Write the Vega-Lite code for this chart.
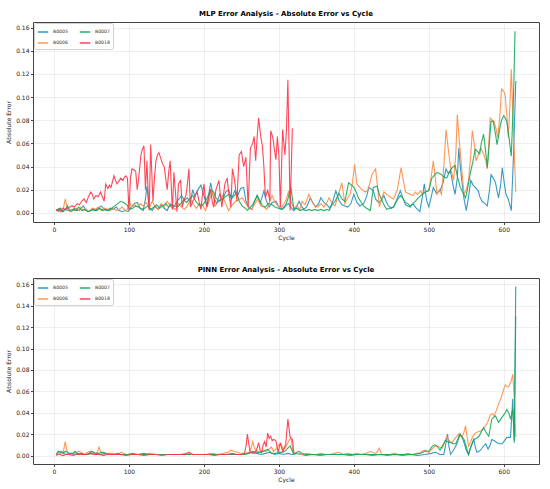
{
  "$schema": "https://vega.github.io/schema/vega-lite/v5.json",
  "autosize": {"type": "pad"},
  "padding": {"left": 5, "top": 9, "right": 5, "bottom": 0},
  "datasets": {
    "mlp": [
      {"b":"B0005","c":3,"e":0.002},{"b":"B0005","c":7,"e":0.004},{"b":"B0005","c":11,"e":0.001},{"b":"B0005","c":15,"e":0.003},{"b":"B0005","c":19,"e":0.002},{"b":"B0005","c":23,"e":0.001},{"b":"B0005","c":27,"e":0.004},{"b":"B0005","c":31,"e":0.002},{"b":"B0005","c":35,"e":0.003},{"b":"B0005","c":39,"e":0.006},{"b":"B0005","c":43,"e":0.002},{"b":"B0005","c":47,"e":0.001},{"b":"B0005","c":51,"e":0.003},{"b":"B0005","c":55,"e":0.002},{"b":"B0005","c":59,"e":0.004},{"b":"B0005","c":63,"e":0.006},{"b":"B0005","c":67,"e":0.003},{"b":"B0005","c":71,"e":0.002},{"b":"B0005","c":75,"e":0.004},{"b":"B0005","c":79,"e":0.003},{"b":"B0005","c":83,"e":0.005},{"b":"B0005","c":87,"e":0.002},{"b":"B0005","c":91,"e":0.001},{"b":"B0005","c":95,"e":0.002},{"b":"B0005","c":99,"e":0.001},{"b":"B0005","c":103,"e":0.005},{"b":"B0005","c":107,"e":0.008},{"b":"B0005","c":111,"e":0.009},{"b":"B0005","c":115,"e":0.004},{"b":"B0005","c":119,"e":0.002},{"b":"B0005","c":122,"e":0.012},{"b":"B0005","c":124,"e":0.023},{"b":"B0005","c":127,"e":0.005},{"b":"B0005","c":131,"e":0.002},{"b":"B0005","c":135,"e":0.006},{"b":"B0005","c":139,"e":0.003},{"b":"B0005","c":143,"e":0.007},{"b":"B0005","c":147,"e":0.004},{"b":"B0005","c":151,"e":0.002},{"b":"B0005","c":155,"e":0.008},{"b":"B0005","c":159,"e":0.004},{"b":"B0005","c":163,"e":0.009},{"b":"B0005","c":167,"e":0.012},{"b":"B0005","c":170,"e":0.015},{"b":"B0005","c":174,"e":0.011},{"b":"B0005","c":178,"e":0.013},{"b":"B0005","c":182,"e":0.009},{"b":"B0005","c":185,"e":0.020},{"b":"B0005","c":188,"e":0.014},{"b":"B0005","c":191,"e":0.019},{"b":"B0005","c":196,"e":0.024},{"b":"B0005","c":200,"e":0.015},{"b":"B0005","c":204,"e":0.006},{"b":"B0005","c":209,"e":0.026},{"b":"B0005","c":213,"e":0.013},{"b":"B0005","c":217,"e":0.008},{"b":"B0005","c":221,"e":0.016},{"b":"B0005","c":225,"e":0.011},{"b":"B0005","c":229,"e":0.018},{"b":"B0005","c":233,"e":0.020},{"b":"B0005","c":237,"e":0.012},{"b":"B0005","c":241,"e":0.019},{"b":"B0005","c":245,"e":0.015},{"b":"B0005","c":249,"e":0.021},{"b":"B0005","c":253,"e":0.022},{"b":"B0005","c":256,"e":0.010},{"b":"B0005","c":260,"e":0.005},{"b":"B0005","c":264,"e":0.003},{"b":"B0005","c":267,"e":0.009},{"b":"B0005","c":271,"e":0.015},{"b":"B0005","c":275,"e":0.008},{"b":"B0005","c":280,"e":0.019},{"b":"B0005","c":283,"e":0.011},{"b":"B0005","c":287,"e":0.005},{"b":"B0005","c":291,"e":0.009},{"b":"B0005","c":296,"e":0.010},{"b":"B0005","c":300,"e":0.005},{"b":"B0005","c":304,"e":0.003},{"b":"B0005","c":308,"e":0.006},{"b":"B0005","c":313,"e":0.008},{"b":"B0005","c":317,"e":0.004},{"b":"B0005","c":320,"e":0.002},{"b":"B0005","c":324,"e":0.006},{"b":"B0005","c":327,"e":0.010},{"b":"B0005","c":330,"e":0.006},{"b":"B0005","c":333,"e":0.003},{"b":"B0005","c":337,"e":0.005},{"b":"B0005","c":342,"e":0.013},{"b":"B0005","c":345,"e":0.009},{"b":"B0005","c":349,"e":0.005},{"b":"B0005","c":353,"e":0.008},{"b":"B0005","c":356,"e":0.013},{"b":"B0005","c":360,"e":0.009},{"b":"B0005","c":364,"e":0.007},{"b":"B0005","c":368,"e":0.004},{"b":"B0005","c":372,"e":0.010},{"b":"B0005","c":376,"e":0.019},{"b":"B0005","c":380,"e":0.011},{"b":"B0005","c":384,"e":0.007},{"b":"B0005","c":388,"e":0.006},{"b":"B0005","c":392,"e":0.005},{"b":"B0005","c":396,"e":0.008},{"b":"B0005","c":400,"e":0.016},{"b":"B0005","c":404,"e":0.009},{"b":"B0005","c":408,"e":0.006},{"b":"B0005","c":413,"e":0.008},{"b":"B0005","c":417,"e":0.014},{"b":"B0005","c":420,"e":0.022},{"b":"B0005","c":426,"e":0.019},{"b":"B0005","c":429,"e":0.012},{"b":"B0005","c":433,"e":0.009},{"b":"B0005","c":437,"e":0.011},{"b":"B0005","c":440,"e":0.015},{"b":"B0005","c":443,"e":0.010},{"b":"B0005","c":446,"e":0.006},{"b":"B0005","c":450,"e":0.004},{"b":"B0005","c":453,"e":0.005},{"b":"B0005","c":457,"e":0.011},{"b":"B0005","c":462,"e":0.019},{"b":"B0005","c":466,"e":0.012},{"b":"B0005","c":469,"e":0.007},{"b":"B0005","c":472,"e":0.006},{"b":"B0005","c":475,"e":0.005},{"b":"B0005","c":479,"e":0.008},{"b":"B0005","c":482,"e":0.005},{"b":"B0005","c":485,"e":0.003},{"b":"B0005","c":488,"e":0.001},{"b":"B0005","c":491,"e":0.012},{"b":"B0005","c":494,"e":0.025},{"b":"B0005","c":497,"e":0.011},{"b":"B0005","c":500,"e":0.005},{"b":"B0005","c":503,"e":0.013},{"b":"B0005","c":506,"e":0.022},{"b":"B0005","c":510,"e":0.017},{"b":"B0005","c":515,"e":0.019},{"b":"B0005","c":519,"e":0.026},{"b":"B0005","c":523,"e":0.038},{"b":"B0005","c":526,"e":0.034},{"b":"B0005","c":529,"e":0.036},{"b":"B0005","c":532,"e":0.025},{"b":"B0005","c":535,"e":0.016},{"b":"B0005","c":538,"e":0.030},{"b":"B0005","c":540,"e":0.056},{"b":"B0005","c":542,"e":0.040},{"b":"B0005","c":544,"e":0.028},{"b":"B0005","c":547,"e":0.012},{"b":"B0005","c":550,"e":0.002},{"b":"B0005","c":553,"e":0.014},{"b":"B0005","c":556,"e":0.028},{"b":"B0005","c":559,"e":0.024},{"b":"B0005","c":562,"e":0.022},{"b":"B0005","c":566,"e":0.019},{"b":"B0005","c":568,"e":0.014},{"b":"B0005","c":571,"e":0.010},{"b":"B0005","c":575,"e":0.008},{"b":"B0005","c":578,"e":0.006},{"b":"B0005","c":581,"e":0.020},{"b":"B0005","c":583,"e":0.033},{"b":"B0005","c":586,"e":0.030},{"b":"B0005","c":589,"e":0.026},{"b":"B0005","c":591,"e":0.019},{"b":"B0005","c":593,"e":0.013},{"b":"B0005","c":596,"e":0.025},{"b":"B0005","c":598,"e":0.039},{"b":"B0005","c":601,"e":0.024},{"b":"B0005","c":603,"e":0.016},{"b":"B0005","c":606,"e":0.012},{"b":"B0005","c":608,"e":0.007},{"b":"B0005","c":610,"e":0.002},{"b":"B0005","c":613,"e":0.050},{"b":"B0005","c":616,"e":0.114},
      {"b":"B0006","c":3,"e":0.002},{"b":"B0006","c":6,"e":0.001},{"b":"B0006","c":9,"e":0.003},{"b":"B0006","c":12,"e":0.002},{"b":"B0006","c":15,"e":0.012},{"b":"B0006","c":18,"e":0.003},{"b":"B0006","c":22,"e":0.001},{"b":"B0006","c":26,"e":0.002},{"b":"B0006","c":30,"e":0.004},{"b":"B0006","c":34,"e":0.002},{"b":"B0006","c":36,"e":0.005},{"b":"B0006","c":39,"e":0.002},{"b":"B0006","c":43,"e":0.003},{"b":"B0006","c":47,"e":0.001},{"b":"B0006","c":51,"e":0.004},{"b":"B0006","c":55,"e":0.003},{"b":"B0006","c":59,"e":0.005},{"b":"B0006","c":63,"e":0.002},{"b":"B0006","c":67,"e":0.004},{"b":"B0006","c":71,"e":0.003},{"b":"B0006","c":75,"e":0.002},{"b":"B0006","c":79,"e":0.004},{"b":"B0006","c":83,"e":0.002},{"b":"B0006","c":87,"e":0.003},{"b":"B0006","c":91,"e":0.005},{"b":"B0006","c":95,"e":0.002},{"b":"B0006","c":98,"e":0.003},{"b":"B0006","c":100,"e":0.013},{"b":"B0006","c":103,"e":0.005},{"b":"B0006","c":107,"e":0.007},{"b":"B0006","c":111,"e":0.005},{"b":"B0006","c":115,"e":0.008},{"b":"B0006","c":119,"e":0.006},{"b":"B0006","c":123,"e":0.009},{"b":"B0006","c":127,"e":0.004},{"b":"B0006","c":131,"e":0.010},{"b":"B0006","c":135,"e":0.005},{"b":"B0006","c":139,"e":0.003},{"b":"B0006","c":143,"e":0.008},{"b":"B0006","c":147,"e":0.005},{"b":"B0006","c":151,"e":0.010},{"b":"B0006","c":155,"e":0.006},{"b":"B0006","c":158,"e":0.004},{"b":"B0006","c":162,"e":0.003},{"b":"B0006","c":166,"e":0.008},{"b":"B0006","c":170,"e":0.005},{"b":"B0006","c":174,"e":0.003},{"b":"B0006","c":178,"e":0.006},{"b":"B0006","c":182,"e":0.012},{"b":"B0006","c":186,"e":0.007},{"b":"B0006","c":190,"e":0.004},{"b":"B0006","c":194,"e":0.008},{"b":"B0006","c":198,"e":0.007},{"b":"B0006","c":202,"e":0.002},{"b":"B0006","c":207,"e":0.010},{"b":"B0006","c":211,"e":0.019},{"b":"B0006","c":215,"e":0.006},{"b":"B0006","c":220,"e":0.010},{"b":"B0006","c":225,"e":0.015},{"b":"B0006","c":229,"e":0.008},{"b":"B0006","c":233,"e":0.002},{"b":"B0006","c":237,"e":0.006},{"b":"B0006","c":242,"e":0.010},{"b":"B0006","c":246,"e":0.011},{"b":"B0006","c":251,"e":0.013},{"b":"B0006","c":256,"e":0.008},{"b":"B0006","c":260,"e":0.004},{"b":"B0006","c":264,"e":0.003},{"b":"B0006","c":268,"e":0.008},{"b":"B0006","c":272,"e":0.012},{"b":"B0006","c":276,"e":0.006},{"b":"B0006","c":280,"e":0.005},{"b":"B0006","c":284,"e":0.003},{"b":"B0006","c":288,"e":0.010},{"b":"B0006","c":291,"e":0.015},{"b":"B0006","c":295,"e":0.009},{"b":"B0006","c":299,"e":0.006},{"b":"B0006","c":303,"e":0.004},{"b":"B0006","c":307,"e":0.008},{"b":"B0006","c":310,"e":0.012},{"b":"B0006","c":313,"e":0.019},{"b":"B0006","c":316,"e":0.010},{"b":"B0006","c":320,"e":0.004},{"b":"B0006","c":324,"e":0.006},{"b":"B0006","c":328,"e":0.003},{"b":"B0006","c":331,"e":0.010},{"b":"B0006","c":335,"e":0.007},{"b":"B0006","c":340,"e":0.016},{"b":"B0006","c":344,"e":0.010},{"b":"B0006","c":348,"e":0.006},{"b":"B0006","c":352,"e":0.005},{"b":"B0006","c":356,"e":0.008},{"b":"B0006","c":360,"e":0.005},{"b":"B0006","c":364,"e":0.009},{"b":"B0006","c":367,"e":0.013},{"b":"B0006","c":371,"e":0.008},{"b":"B0006","c":375,"e":0.006},{"b":"B0006","c":379,"e":0.015},{"b":"B0006","c":384,"e":0.026},{"b":"B0006","c":388,"e":0.008},{"b":"B0006","c":391,"e":0.012},{"b":"B0006","c":395,"e":0.016},{"b":"B0006","c":398,"e":0.025},{"b":"B0006","c":401,"e":0.042},{"b":"B0006","c":404,"e":0.025},{"b":"B0006","c":408,"e":0.022},{"b":"B0006","c":411,"e":0.020},{"b":"B0006","c":415,"e":0.018},{"b":"B0006","c":418,"e":0.019},{"b":"B0006","c":421,"e":0.025},{"b":"B0006","c":424,"e":0.033},{"b":"B0006","c":429,"e":0.038},{"b":"B0006","c":432,"e":0.020},{"b":"B0006","c":434,"e":0.005},{"b":"B0006","c":437,"e":0.012},{"b":"B0006","c":440,"e":0.018},{"b":"B0006","c":446,"e":0.015},{"b":"B0006","c":450,"e":0.013},{"b":"B0006","c":453,"e":0.012},{"b":"B0006","c":458,"e":0.020},{"b":"B0006","c":463,"e":0.039},{"b":"B0006","c":466,"e":0.028},{"b":"B0006","c":469,"e":0.018},{"b":"B0006","c":472,"e":0.017},{"b":"B0006","c":475,"e":0.016},{"b":"B0006","c":479,"e":0.015},{"b":"B0006","c":482,"e":0.018},{"b":"B0006","c":485,"e":0.016},{"b":"B0006","c":489,"e":0.019},{"b":"B0006","c":492,"e":0.016},{"b":"B0006","c":495,"e":0.018},{"b":"B0006","c":498,"e":0.019},{"b":"B0006","c":500,"e":0.020},{"b":"B0006","c":503,"e":0.030},{"b":"B0006","c":506,"e":0.045},{"b":"B0006","c":509,"e":0.028},{"b":"B0006","c":511,"e":0.016},{"b":"B0006","c":514,"e":0.020},{"b":"B0006","c":517,"e":0.016},{"b":"B0006","c":520,"e":0.040},{"b":"B0006","c":523,"e":0.072},{"b":"B0006","c":526,"e":0.055},{"b":"B0006","c":529,"e":0.039},{"b":"B0006","c":533,"e":0.028},{"b":"B0006","c":536,"e":0.050},{"b":"B0006","c":538,"e":0.085},{"b":"B0006","c":541,"e":0.060},{"b":"B0006","c":543,"e":0.045},{"b":"B0006","c":545,"e":0.030},{"b":"B0006","c":547,"e":0.016},{"b":"B0006","c":550,"e":0.020},{"b":"B0006","c":553,"e":0.028},{"b":"B0006","c":556,"e":0.050},{"b":"B0006","c":558,"e":0.071},{"b":"B0006","c":561,"e":0.058},{"b":"B0006","c":563,"e":0.045},{"b":"B0006","c":566,"e":0.050},{"b":"B0006","c":569,"e":0.056},{"b":"B0006","c":573,"e":0.051},{"b":"B0006","c":576,"e":0.045},{"b":"B0006","c":578,"e":0.038},{"b":"B0006","c":580,"e":0.060},{"b":"B0006","c":582,"e":0.082},{"b":"B0006","c":585,"e":0.080},{"b":"B0006","c":587,"e":0.079},{"b":"B0006","c":590,"e":0.072},{"b":"B0006","c":592,"e":0.065},{"b":"B0006","c":595,"e":0.085},{"b":"B0006","c":597,"e":0.107},{"b":"B0006","c":600,"e":0.105},{"b":"B0006","c":602,"e":0.101},{"b":"B0006","c":604,"e":0.085},{"b":"B0006","c":606,"e":0.065},{"b":"B0006","c":608,"e":0.090},{"b":"B0006","c":610,"e":0.124},{"b":"B0006","c":613,"e":0.070},{"b":"B0006","c":616,"e":0.018},
      {"b":"B0007","c":3,"e":0.003},{"b":"B0007","c":6,"e":0.002},{"b":"B0007","c":9,"e":0.004},{"b":"B0007","c":12,"e":0.001},{"b":"B0007","c":15,"e":0.003},{"b":"B0007","c":18,"e":0.006},{"b":"B0007","c":21,"e":0.002},{"b":"B0007","c":25,"e":0.003},{"b":"B0007","c":29,"e":0.002},{"b":"B0007","c":33,"e":0.005},{"b":"B0007","c":37,"e":0.002},{"b":"B0007","c":41,"e":0.003},{"b":"B0007","c":45,"e":0.001},{"b":"B0007","c":49,"e":0.002},{"b":"B0007","c":53,"e":0.003},{"b":"B0007","c":57,"e":0.002},{"b":"B0007","c":61,"e":0.004},{"b":"B0007","c":65,"e":0.002},{"b":"B0007","c":69,"e":0.003},{"b":"B0007","c":73,"e":0.002},{"b":"B0007","c":77,"e":0.004},{"b":"B0007","c":81,"e":0.006},{"b":"B0007","c":85,"e":0.008},{"b":"B0007","c":89,"e":0.010},{"b":"B0007","c":93,"e":0.009},{"b":"B0007","c":97,"e":0.007},{"b":"B0007","c":101,"e":0.003},{"b":"B0007","c":105,"e":0.004},{"b":"B0007","c":109,"e":0.006},{"b":"B0007","c":113,"e":0.005},{"b":"B0007","c":117,"e":0.003},{"b":"B0007","c":121,"e":0.004},{"b":"B0007","c":125,"e":0.006},{"b":"B0007","c":129,"e":0.003},{"b":"B0007","c":133,"e":0.005},{"b":"B0007","c":137,"e":0.007},{"b":"B0007","c":141,"e":0.004},{"b":"B0007","c":145,"e":0.006},{"b":"B0007","c":149,"e":0.008},{"b":"B0007","c":153,"e":0.005},{"b":"B0007","c":157,"e":0.007},{"b":"B0007","c":161,"e":0.006},{"b":"B0007","c":165,"e":0.005},{"b":"B0007","c":169,"e":0.008},{"b":"B0007","c":173,"e":0.011},{"b":"B0007","c":177,"e":0.009},{"b":"B0007","c":181,"e":0.012},{"b":"B0007","c":185,"e":0.015},{"b":"B0007","c":189,"e":0.010},{"b":"B0007","c":193,"e":0.007},{"b":"B0007","c":197,"e":0.006},{"b":"B0007","c":201,"e":0.009},{"b":"B0007","c":205,"e":0.014},{"b":"B0007","c":209,"e":0.020},{"b":"B0007","c":213,"e":0.018},{"b":"B0007","c":216,"e":0.013},{"b":"B0007","c":220,"e":0.010},{"b":"B0007","c":225,"e":0.012},{"b":"B0007","c":229,"e":0.014},{"b":"B0007","c":233,"e":0.016},{"b":"B0007","c":237,"e":0.013},{"b":"B0007","c":241,"e":0.015},{"b":"B0007","c":244,"e":0.018},{"b":"B0007","c":247,"e":0.010},{"b":"B0007","c":251,"e":0.006},{"b":"B0007","c":255,"e":0.004},{"b":"B0007","c":258,"e":0.002},{"b":"B0007","c":262,"e":0.005},{"b":"B0007","c":265,"e":0.007},{"b":"B0007","c":268,"e":0.011},{"b":"B0007","c":271,"e":0.015},{"b":"B0007","c":275,"e":0.010},{"b":"B0007","c":278,"e":0.006},{"b":"B0007","c":282,"e":0.005},{"b":"B0007","c":286,"e":0.008},{"b":"B0007","c":291,"e":0.007},{"b":"B0007","c":295,"e":0.005},{"b":"B0007","c":299,"e":0.004},{"b":"B0007","c":304,"e":0.003},{"b":"B0007","c":308,"e":0.005},{"b":"B0007","c":312,"e":0.012},{"b":"B0007","c":316,"e":0.022},{"b":"B0007","c":320,"e":0.003},{"b":"B0007","c":324,"e":0.004},{"b":"B0007","c":328,"e":0.002},{"b":"B0007","c":332,"e":0.003},{"b":"B0007","c":336,"e":0.002},{"b":"B0007","c":340,"e":0.003},{"b":"B0007","c":344,"e":0.002},{"b":"B0007","c":348,"e":0.003},{"b":"B0007","c":352,"e":0.002},{"b":"B0007","c":356,"e":0.003},{"b":"B0007","c":360,"e":0.002},{"b":"B0007","c":364,"e":0.003},{"b":"B0007","c":367,"e":0.002},{"b":"B0007","c":371,"e":0.007},{"b":"B0007","c":375,"e":0.010},{"b":"B0007","c":380,"e":0.017},{"b":"B0007","c":384,"e":0.012},{"b":"B0007","c":388,"e":0.010},{"b":"B0007","c":393,"e":0.026},{"b":"B0007","c":397,"e":0.024},{"b":"B0007","c":400,"e":0.022},{"b":"B0007","c":403,"e":0.018},{"b":"B0007","c":406,"e":0.013},{"b":"B0007","c":410,"e":0.009},{"b":"B0007","c":413,"e":0.006},{"b":"B0007","c":417,"e":0.004},{"b":"B0007","c":422,"e":0.002},{"b":"B0007","c":426,"e":0.022},{"b":"B0007","c":431,"e":0.023},{"b":"B0007","c":434,"e":0.016},{"b":"B0007","c":438,"e":0.010},{"b":"B0007","c":441,"e":0.006},{"b":"B0007","c":444,"e":0.003},{"b":"B0007","c":448,"e":0.004},{"b":"B0007","c":453,"e":0.005},{"b":"B0007","c":457,"e":0.010},{"b":"B0007","c":462,"e":0.015},{"b":"B0007","c":466,"e":0.012},{"b":"B0007","c":469,"e":0.009},{"b":"B0007","c":472,"e":0.008},{"b":"B0007","c":475,"e":0.006},{"b":"B0007","c":479,"e":0.008},{"b":"B0007","c":482,"e":0.010},{"b":"B0007","c":486,"e":0.013},{"b":"B0007","c":491,"e":0.016},{"b":"B0007","c":495,"e":0.018},{"b":"B0007","c":500,"e":0.019},{"b":"B0007","c":504,"e":0.030},{"b":"B0007","c":508,"e":0.033},{"b":"B0007","c":511,"e":0.035},{"b":"B0007","c":514,"e":0.034},{"b":"B0007","c":517,"e":0.033},{"b":"B0007","c":520,"e":0.031},{"b":"B0007","c":524,"e":0.030},{"b":"B0007","c":527,"e":0.035},{"b":"B0007","c":531,"e":0.039},{"b":"B0007","c":535,"e":0.041},{"b":"B0007","c":538,"e":0.032},{"b":"B0007","c":542,"e":0.022},{"b":"B0007","c":545,"e":0.018},{"b":"B0007","c":549,"e":0.013},{"b":"B0007","c":552,"e":0.022},{"b":"B0007","c":555,"e":0.033},{"b":"B0007","c":559,"e":0.045},{"b":"B0007","c":562,"e":0.055},{"b":"B0007","c":565,"e":0.053},{"b":"B0007","c":568,"e":0.051},{"b":"B0007","c":570,"e":0.060},{"b":"B0007","c":573,"e":0.068},{"b":"B0007","c":576,"e":0.052},{"b":"B0007","c":578,"e":0.039},{"b":"B0007","c":581,"e":0.062},{"b":"B0007","c":583,"e":0.079},{"b":"B0007","c":586,"e":0.079},{"b":"B0007","c":589,"e":0.068},{"b":"B0007","c":591,"e":0.059},{"b":"B0007","c":593,"e":0.066},{"b":"B0007","c":595,"e":0.074},{"b":"B0007","c":597,"e":0.080},{"b":"B0007","c":600,"e":0.084},{"b":"B0007","c":602,"e":0.082},{"b":"B0007","c":604,"e":0.079},{"b":"B0007","c":607,"e":0.065},{"b":"B0007","c":610,"e":0.049},{"b":"B0007","c":613,"e":0.100},{"b":"B0007","c":615,"e":0.157},
      {"b":"B0018","c":3,"e":0.002},{"b":"B0018","c":6,"e":0.003},{"b":"B0018","c":9,"e":0.001},{"b":"B0018","c":12,"e":0.004},{"b":"B0018","c":15,"e":0.003},{"b":"B0018","c":18,"e":0.004},{"b":"B0018","c":21,"e":0.005},{"b":"B0018","c":24,"e":0.006},{"b":"B0018","c":27,"e":0.005},{"b":"B0018","c":31,"e":0.008},{"b":"B0018","c":34,"e":0.007},{"b":"B0018","c":37,"e":0.010},{"b":"B0018","c":40,"e":0.012},{"b":"B0018","c":43,"e":0.009},{"b":"B0018","c":46,"e":0.014},{"b":"B0018","c":49,"e":0.018},{"b":"B0018","c":51,"e":0.016},{"b":"B0018","c":53,"e":0.012},{"b":"B0018","c":56,"e":0.015},{"b":"B0018","c":59,"e":0.014},{"b":"B0018","c":62,"e":0.018},{"b":"B0018","c":65,"e":0.013},{"b":"B0018","c":67,"e":0.010},{"b":"B0018","c":69,"e":0.025},{"b":"B0018","c":72,"e":0.021},{"b":"B0018","c":74,"e":0.024},{"b":"B0018","c":76,"e":0.022},{"b":"B0018","c":78,"e":0.027},{"b":"B0018","c":80,"e":0.032},{"b":"B0018","c":82,"e":0.028},{"b":"B0018","c":84,"e":0.025},{"b":"B0018","c":86,"e":0.027},{"b":"B0018","c":89,"e":0.030},{"b":"B0018","c":92,"e":0.028},{"b":"B0018","c":94,"e":0.031},{"b":"B0018","c":96,"e":0.032},{"b":"B0018","c":98,"e":0.030},{"b":"B0018","c":100,"e":0.002},{"b":"B0018","c":102,"e":0.030},{"b":"B0018","c":104,"e":0.038},{"b":"B0018","c":107,"e":0.037},{"b":"B0018","c":109,"e":0.036},{"b":"B0018","c":111,"e":0.020},{"b":"B0018","c":113,"e":0.030},{"b":"B0018","c":116,"e":0.050},{"b":"B0018","c":118,"e":0.055},{"b":"B0018","c":120,"e":0.058},{"b":"B0018","c":122,"e":0.020},{"b":"B0018","c":124,"e":0.045},{"b":"B0018","c":126,"e":0.010},{"b":"B0018","c":127,"e":0.002},{"b":"B0018","c":129,"e":0.059},{"b":"B0018","c":132,"e":0.010},{"b":"B0018","c":134,"e":0.030},{"b":"B0018","c":136,"e":0.045},{"b":"B0018","c":138,"e":0.050},{"b":"B0018","c":140,"e":0.052},{"b":"B0018","c":143,"e":0.046},{"b":"B0018","c":145,"e":0.042},{"b":"B0018","c":147,"e":0.040},{"b":"B0018","c":149,"e":0.030},{"b":"B0018","c":151,"e":0.020},{"b":"B0018","c":153,"e":0.035},{"b":"B0018","c":155,"e":0.045},{"b":"B0018","c":157,"e":0.015},{"b":"B0018","c":158,"e":0.003},{"b":"B0018","c":160,"e":0.035},{"b":"B0018","c":162,"e":0.018},{"b":"B0018","c":164,"e":0.001},{"b":"B0018","c":166,"e":0.025},{"b":"B0018","c":169,"e":0.028},{"b":"B0018","c":171,"e":0.005},{"b":"B0018","c":174,"e":0.012},{"b":"B0018","c":176,"e":0.015},{"b":"B0018","c":178,"e":0.025},{"b":"B0018","c":180,"e":0.038},{"b":"B0018","c":182,"e":0.005},{"b":"B0018","c":185,"e":0.010},{"b":"B0018","c":187,"e":0.012},{"b":"B0018","c":189,"e":0.016},{"b":"B0018","c":191,"e":0.018},{"b":"B0018","c":194,"e":0.008},{"b":"B0018","c":196,"e":0.003},{"b":"B0018","c":198,"e":0.015},{"b":"B0018","c":200,"e":0.025},{"b":"B0018","c":202,"e":0.012},{"b":"B0018","c":204,"e":0.005},{"b":"B0018","c":206,"e":0.012},{"b":"B0018","c":209,"e":0.020},{"b":"B0018","c":211,"e":0.010},{"b":"B0018","c":213,"e":0.005},{"b":"B0018","c":216,"e":0.020},{"b":"B0018","c":218,"e":0.024},{"b":"B0018","c":220,"e":0.028},{"b":"B0018","c":222,"e":0.015},{"b":"B0018","c":224,"e":0.005},{"b":"B0018","c":226,"e":0.015},{"b":"B0018","c":228,"e":0.025},{"b":"B0018","c":231,"e":0.030},{"b":"B0018","c":233,"e":0.018},{"b":"B0018","c":236,"e":0.005},{"b":"B0018","c":238,"e":0.038},{"b":"B0018","c":241,"e":0.028},{"b":"B0018","c":244,"e":0.010},{"b":"B0018","c":247,"e":0.050},{"b":"B0018","c":250,"e":0.053},{"b":"B0018","c":253,"e":0.040},{"b":"B0018","c":256,"e":0.048},{"b":"B0018","c":259,"e":0.005},{"b":"B0018","c":262,"e":0.056},{"b":"B0018","c":265,"e":0.060},{"b":"B0018","c":267,"e":0.066},{"b":"B0018","c":269,"e":0.045},{"b":"B0018","c":271,"e":0.065},{"b":"B0018","c":273,"e":0.082},{"b":"B0018","c":276,"e":0.065},{"b":"B0018","c":278,"e":0.058},{"b":"B0018","c":280,"e":0.040},{"b":"B0018","c":282,"e":0.013},{"b":"B0018","c":285,"e":0.020},{"b":"B0018","c":288,"e":0.010},{"b":"B0018","c":289,"e":0.071},{"b":"B0018","c":292,"e":0.065},{"b":"B0018","c":294,"e":0.055},{"b":"B0018","c":296,"e":0.046},{"b":"B0018","c":298,"e":0.066},{"b":"B0018","c":300,"e":0.050},{"b":"B0018","c":302,"e":0.005},{"b":"B0018","c":305,"e":0.072},{"b":"B0018","c":308,"e":0.050},{"b":"B0018","c":310,"e":0.070},{"b":"B0018","c":312,"e":0.115},{"b":"B0018","c":315,"e":0.002},{"b":"B0018","c":318,"e":0.073}
    ],
    "pinn": [
      {"b":"B0005","c":3,"e":0.001},{"b":"B0005","c":5,"e":0.003},{"b":"B0005","c":8,"e":0.002},{"b":"B0005","c":10,"e":0.004},{"b":"B0005","c":13,"e":0.002},{"b":"B0005","c":17,"e":0.001},{"b":"B0005","c":22,"e":0.002},{"b":"B0005","c":27,"e":0.001},{"b":"B0005","c":32,"e":0.002},{"b":"B0005","c":38,"e":0.001},{"b":"B0005","c":44,"e":0.001},{"b":"B0005","c":50,"e":0.002},{"b":"B0005","c":56,"e":0.001},{"b":"B0005","c":62,"e":0.001},{"b":"B0005","c":68,"e":0.002},{"b":"B0005","c":75,"e":0.001},{"b":"B0005","c":82,"e":0.001},{"b":"B0005","c":90,"e":0.001},{"b":"B0005","c":98,"e":0.001},{"b":"B0005","c":105,"e":0.002},{"b":"B0005","c":112,"e":0.001},{"b":"B0005","c":120,"e":0.002},{"b":"B0005","c":128,"e":0.001},{"b":"B0005","c":136,"e":0.001},{"b":"B0005","c":144,"e":0.001},{"b":"B0005","c":152,"e":0.001},{"b":"B0005","c":160,"e":0.001},{"b":"B0005","c":168,"e":0.001},{"b":"B0005","c":176,"e":0.001},{"b":"B0005","c":184,"e":0.001},{"b":"B0005","c":192,"e":0.001},{"b":"B0005","c":200,"e":0.001},{"b":"B0005","c":210,"e":0.001},{"b":"B0005","c":220,"e":0.001},{"b":"B0005","c":230,"e":0.001},{"b":"B0005","c":240,"e":0.001},{"b":"B0005","c":250,"e":0.001},{"b":"B0005","c":258,"e":0.002},{"b":"B0005","c":264,"e":0.003},{"b":"B0005","c":270,"e":0.002},{"b":"B0005","c":276,"e":0.001},{"b":"B0005","c":282,"e":0.002},{"b":"B0005","c":288,"e":0.003},{"b":"B0005","c":294,"e":0.001},{"b":"B0005","c":300,"e":0.002},{"b":"B0005","c":306,"e":0.001},{"b":"B0005","c":312,"e":0.002},{"b":"B0005","c":318,"e":0.001},{"b":"B0005","c":324,"e":0.002},{"b":"B0005","c":330,"e":0.001},{"b":"B0005","c":336,"e":0.0},{"b":"B0005","c":345,"e":0.001},{"b":"B0005","c":355,"e":0.0},{"b":"B0005","c":365,"e":0.001},{"b":"B0005","c":375,"e":0.001},{"b":"B0005","c":385,"e":0.001},{"b":"B0005","c":395,"e":0.0},{"b":"B0005","c":405,"e":0.001},{"b":"B0005","c":415,"e":0.001},{"b":"B0005","c":425,"e":0.0},{"b":"B0005","c":435,"e":0.001},{"b":"B0005","c":445,"e":0.0},{"b":"B0005","c":455,"e":0.001},{"b":"B0005","c":465,"e":0.0},{"b":"B0005","c":475,"e":0.001},{"b":"B0005","c":485,"e":0.0},{"b":"B0005","c":495,"e":0.001},{"b":"B0005","c":503,"e":0.002},{"b":"B0005","c":509,"e":0.003},{"b":"B0005","c":515,"e":0.001},{"b":"B0005","c":520,"e":0.001},{"b":"B0005","c":523,"e":0.012},{"b":"B0005","c":525,"e":0.020},{"b":"B0005","c":527,"e":0.008},{"b":"B0005","c":529,"e":0.001},{"b":"B0005","c":532,"e":0.004},{"b":"B0005","c":536,"e":0.009},{"b":"B0005","c":539,"e":0.014},{"b":"B0005","c":542,"e":0.020},{"b":"B0005","c":545,"e":0.016},{"b":"B0005","c":547,"e":0.012},{"b":"B0005","c":550,"e":0.005},{"b":"B0005","c":553,"e":0.001},{"b":"B0005","c":556,"e":0.008},{"b":"B0005","c":560,"e":0.015},{"b":"B0005","c":562,"e":0.008},{"b":"B0005","c":564,"e":0.003},{"b":"B0005","c":567,"e":0.004},{"b":"B0005","c":569,"e":0.005},{"b":"B0005","c":572,"e":0.008},{"b":"B0005","c":576,"e":0.011},{"b":"B0005","c":579,"e":0.006},{"b":"B0005","c":582,"e":0.010},{"b":"B0005","c":584,"e":0.015},{"b":"B0005","c":587,"e":0.014},{"b":"B0005","c":591,"e":0.012},{"b":"B0005","c":594,"e":0.011},{"b":"B0005","c":598,"e":0.011},{"b":"B0005","c":601,"e":0.014},{"b":"B0005","c":604,"e":0.017},{"b":"B0005","c":607,"e":0.017},{"b":"B0005","c":609,"e":0.017},{"b":"B0005","c":612,"e":0.053},{"b":"B0005","c":614,"e":0.012},{"b":"B0005","c":616,"e":0.130},
      {"b":"B0006","c":3,"e":0.001},{"b":"B0006","c":5,"e":0.003},{"b":"B0006","c":7,"e":0.004},{"b":"B0006","c":10,"e":0.003},{"b":"B0006","c":12,"e":0.002},{"b":"B0006","c":15,"e":0.013},{"b":"B0006","c":18,"e":0.002},{"b":"B0006","c":21,"e":0.001},{"b":"B0006","c":25,"e":0.002},{"b":"B0006","c":30,"e":0.003},{"b":"B0006","c":33,"e":0.004},{"b":"B0006","c":36,"e":0.003},{"b":"B0006","c":40,"e":0.001},{"b":"B0006","c":45,"e":0.003},{"b":"B0006","c":48,"e":0.004},{"b":"B0006","c":51,"e":0.003},{"b":"B0006","c":55,"e":0.002},{"b":"B0006","c":58,"e":0.003},{"b":"B0006","c":60,"e":0.008},{"b":"B0006","c":63,"e":0.002},{"b":"B0006","c":67,"e":0.001},{"b":"B0006","c":72,"e":0.002},{"b":"B0006","c":78,"e":0.002},{"b":"B0006","c":84,"e":0.001},{"b":"B0006","c":90,"e":0.003},{"b":"B0006","c":96,"e":0.001},{"b":"B0006","c":104,"e":0.001},{"b":"B0006","c":112,"e":0.001},{"b":"B0006","c":120,"e":0.001},{"b":"B0006","c":128,"e":0.002},{"b":"B0006","c":136,"e":0.001},{"b":"B0006","c":144,"e":0.001},{"b":"B0006","c":152,"e":0.001},{"b":"B0006","c":160,"e":0.001},{"b":"B0006","c":168,"e":0.001},{"b":"B0006","c":176,"e":0.002},{"b":"B0006","c":180,"e":0.003},{"b":"B0006","c":186,"e":0.001},{"b":"B0006","c":194,"e":0.001},{"b":"B0006","c":202,"e":0.001},{"b":"B0006","c":210,"e":0.002},{"b":"B0006","c":218,"e":0.001},{"b":"B0006","c":226,"e":0.002},{"b":"B0006","c":232,"e":0.003},{"b":"B0006","c":236,"e":0.005},{"b":"B0006","c":240,"e":0.004},{"b":"B0006","c":245,"e":0.003},{"b":"B0006","c":250,"e":0.002},{"b":"B0006","c":255,"e":0.002},{"b":"B0006","c":260,"e":0.003},{"b":"B0006","c":263,"e":0.007},{"b":"B0006","c":265,"e":0.013},{"b":"B0006","c":268,"e":0.006},{"b":"B0006","c":271,"e":0.004},{"b":"B0006","c":275,"e":0.003},{"b":"B0006","c":279,"e":0.005},{"b":"B0006","c":283,"e":0.004},{"b":"B0006","c":287,"e":0.006},{"b":"B0006","c":290,"e":0.008},{"b":"B0006","c":293,"e":0.004},{"b":"B0006","c":296,"e":0.006},{"b":"B0006","c":300,"e":0.010},{"b":"B0006","c":303,"e":0.010},{"b":"B0006","c":306,"e":0.005},{"b":"B0006","c":309,"e":0.008},{"b":"B0006","c":312,"e":0.012},{"b":"B0006","c":316,"e":0.017},{"b":"B0006","c":319,"e":0.003},{"b":"B0006","c":323,"e":0.002},{"b":"B0006","c":327,"e":0.002},{"b":"B0006","c":332,"e":0.001},{"b":"B0006","c":338,"e":0.002},{"b":"B0006","c":344,"e":0.001},{"b":"B0006","c":350,"e":0.001},{"b":"B0006","c":356,"e":0.002},{"b":"B0006","c":362,"e":0.001},{"b":"B0006","c":368,"e":0.001},{"b":"B0006","c":374,"e":0.002},{"b":"B0006","c":380,"e":0.003},{"b":"B0006","c":386,"e":0.001},{"b":"B0006","c":392,"e":0.002},{"b":"B0006","c":398,"e":0.001},{"b":"B0006","c":404,"e":0.002},{"b":"B0006","c":410,"e":0.001},{"b":"B0006","c":416,"e":0.002},{"b":"B0006","c":422,"e":0.004},{"b":"B0006","c":428,"e":0.002},{"b":"B0006","c":431,"e":0.003},{"b":"B0006","c":434,"e":0.007},{"b":"B0006","c":437,"e":0.001},{"b":"B0006","c":442,"e":0.001},{"b":"B0006","c":448,"e":0.001},{"b":"B0006","c":454,"e":0.002},{"b":"B0006","c":460,"e":0.001},{"b":"B0006","c":466,"e":0.001},{"b":"B0006","c":472,"e":0.002},{"b":"B0006","c":478,"e":0.001},{"b":"B0006","c":484,"e":0.002},{"b":"B0006","c":488,"e":0.002},{"b":"B0006","c":491,"e":0.004},{"b":"B0006","c":495,"e":0.005},{"b":"B0006","c":500,"e":0.003},{"b":"B0006","c":504,"e":0.006},{"b":"B0006","c":509,"e":0.009},{"b":"B0006","c":514,"e":0.008},{"b":"B0006","c":518,"e":0.007},{"b":"B0006","c":521,"e":0.012},{"b":"B0006","c":524,"e":0.018},{"b":"B0006","c":527,"e":0.014},{"b":"B0006","c":531,"e":0.012},{"b":"B0006","c":535,"e":0.016},{"b":"B0006","c":540,"e":0.020},{"b":"B0006","c":544,"e":0.017},{"b":"B0006","c":547,"e":0.022},{"b":"B0006","c":549,"e":0.028},{"b":"B0006","c":551,"e":0.018},{"b":"B0006","c":553,"e":0.009},{"b":"B0006","c":556,"e":0.013},{"b":"B0006","c":558,"e":0.017},{"b":"B0006","c":562,"e":0.021},{"b":"B0006","c":565,"e":0.022},{"b":"B0006","c":569,"e":0.023},{"b":"B0006","c":573,"e":0.025},{"b":"B0006","c":576,"e":0.028},{"b":"B0006","c":579,"e":0.032},{"b":"B0006","c":582,"e":0.038},{"b":"B0006","c":585,"e":0.039},{"b":"B0006","c":587,"e":0.037},{"b":"B0006","c":590,"e":0.042},{"b":"B0006","c":593,"e":0.048},{"b":"B0006","c":597,"e":0.055},{"b":"B0006","c":600,"e":0.062},{"b":"B0006","c":602,"e":0.066},{"b":"B0006","c":605,"e":0.064},{"b":"B0006","c":607,"e":0.065},{"b":"B0006","c":610,"e":0.070},{"b":"B0006","c":612,"e":0.076},{"b":"B0006","c":614,"e":0.054},{"b":"B0006","c":616,"e":0.017},
      {"b":"B0007","c":3,"e":0.001},{"b":"B0007","c":6,"e":0.004},{"b":"B0007","c":9,"e":0.003},{"b":"B0007","c":12,"e":0.002},{"b":"B0007","c":15,"e":0.004},{"b":"B0007","c":18,"e":0.003},{"b":"B0007","c":21,"e":0.002},{"b":"B0007","c":25,"e":0.002},{"b":"B0007","c":28,"e":0.004},{"b":"B0007","c":32,"e":0.001},{"b":"B0007","c":37,"e":0.002},{"b":"B0007","c":41,"e":0.001},{"b":"B0007","c":45,"e":0.001},{"b":"B0007","c":50,"e":0.004},{"b":"B0007","c":53,"e":0.003},{"b":"B0007","c":56,"e":0.002},{"b":"B0007","c":60,"e":0.002},{"b":"B0007","c":63,"e":0.003},{"b":"B0007","c":66,"e":0.003},{"b":"B0007","c":70,"e":0.002},{"b":"B0007","c":75,"e":0.001},{"b":"B0007","c":80,"e":0.001},{"b":"B0007","c":85,"e":0.002},{"b":"B0007","c":90,"e":0.001},{"b":"B0007","c":96,"e":0.001},{"b":"B0007","c":102,"e":0.001},{"b":"B0007","c":110,"e":0.001},{"b":"B0007","c":118,"e":0.001},{"b":"B0007","c":126,"e":0.001},{"b":"B0007","c":134,"e":0.001},{"b":"B0007","c":142,"e":0.001},{"b":"B0007","c":150,"e":0.001},{"b":"B0007","c":158,"e":0.001},{"b":"B0007","c":166,"e":0.001},{"b":"B0007","c":174,"e":0.001},{"b":"B0007","c":182,"e":0.001},{"b":"B0007","c":190,"e":0.001},{"b":"B0007","c":198,"e":0.001},{"b":"B0007","c":206,"e":0.001},{"b":"B0007","c":214,"e":0.001},{"b":"B0007","c":222,"e":0.001},{"b":"B0007","c":230,"e":0.001},{"b":"B0007","c":238,"e":0.001},{"b":"B0007","c":246,"e":0.001},{"b":"B0007","c":254,"e":0.001},{"b":"B0007","c":260,"e":0.002},{"b":"B0007","c":265,"e":0.004},{"b":"B0007","c":270,"e":0.003},{"b":"B0007","c":275,"e":0.003},{"b":"B0007","c":280,"e":0.004},{"b":"B0007","c":285,"e":0.006},{"b":"B0007","c":290,"e":0.002},{"b":"B0007","c":295,"e":0.002},{"b":"B0007","c":300,"e":0.003},{"b":"B0007","c":304,"e":0.003},{"b":"B0007","c":308,"e":0.004},{"b":"B0007","c":312,"e":0.007},{"b":"B0007","c":315,"e":0.009},{"b":"B0007","c":318,"e":0.004},{"b":"B0007","c":320,"e":0.001},{"b":"B0007","c":324,"e":0.003},{"b":"B0007","c":327,"e":0.004},{"b":"B0007","c":331,"e":0.002},{"b":"B0007","c":336,"e":0.001},{"b":"B0007","c":342,"e":0.001},{"b":"B0007","c":348,"e":0.001},{"b":"B0007","c":354,"e":0.001},{"b":"B0007","c":360,"e":0.001},{"b":"B0007","c":368,"e":0.001},{"b":"B0007","c":376,"e":0.001},{"b":"B0007","c":384,"e":0.001},{"b":"B0007","c":392,"e":0.001},{"b":"B0007","c":400,"e":0.001},{"b":"B0007","c":408,"e":0.001},{"b":"B0007","c":416,"e":0.001},{"b":"B0007","c":424,"e":0.001},{"b":"B0007","c":432,"e":0.001},{"b":"B0007","c":440,"e":0.001},{"b":"B0007","c":448,"e":0.001},{"b":"B0007","c":456,"e":0.001},{"b":"B0007","c":464,"e":0.001},{"b":"B0007","c":472,"e":0.001},{"b":"B0007","c":480,"e":0.001},{"b":"B0007","c":488,"e":0.002},{"b":"B0007","c":495,"e":0.004},{"b":"B0007","c":500,"e":0.004},{"b":"B0007","c":505,"e":0.009},{"b":"B0007","c":508,"e":0.010},{"b":"B0007","c":511,"e":0.009},{"b":"B0007","c":515,"e":0.005},{"b":"B0007","c":518,"e":0.009},{"b":"B0007","c":522,"e":0.014},{"b":"B0007","c":525,"e":0.013},{"b":"B0007","c":529,"e":0.012},{"b":"B0007","c":533,"e":0.011},{"b":"B0007","c":536,"e":0.011},{"b":"B0007","c":539,"e":0.016},{"b":"B0007","c":541,"e":0.020},{"b":"B0007","c":544,"e":0.018},{"b":"B0007","c":547,"e":0.015},{"b":"B0007","c":550,"e":0.008},{"b":"B0007","c":553,"e":0.001},{"b":"B0007","c":556,"e":0.008},{"b":"B0007","c":560,"e":0.015},{"b":"B0007","c":563,"e":0.016},{"b":"B0007","c":567,"e":0.018},{"b":"B0007","c":570,"e":0.022},{"b":"B0007","c":573,"e":0.026},{"b":"B0007","c":576,"e":0.022},{"b":"B0007","c":580,"e":0.018},{"b":"B0007","c":582,"e":0.026},{"b":"B0007","c":584,"e":0.034},{"b":"B0007","c":587,"e":0.036},{"b":"B0007","c":589,"e":0.037},{"b":"B0007","c":591,"e":0.034},{"b":"B0007","c":593,"e":0.031},{"b":"B0007","c":596,"e":0.034},{"b":"B0007","c":600,"e":0.038},{"b":"B0007","c":602,"e":0.040},{"b":"B0007","c":604,"e":0.043},{"b":"B0007","c":607,"e":0.039},{"b":"B0007","c":609,"e":0.034},{"b":"B0007","c":611,"e":0.040},{"b":"B0007","c":612,"e":0.043},{"b":"B0007","c":614,"e":0.014},{"b":"B0007","c":616,"e":0.158},
      {"b":"B0018","c":3,"e":0.0},{"b":"B0018","c":5,"e":0.001},{"b":"B0018","c":8,"e":0.001},{"b":"B0018","c":12,"e":0.0},{"b":"B0018","c":16,"e":0.001},{"b":"B0018","c":20,"e":0.001},{"b":"B0018","c":25,"e":0.0},{"b":"B0018","c":30,"e":0.001},{"b":"B0018","c":36,"e":0.001},{"b":"B0018","c":42,"e":0.001},{"b":"B0018","c":48,"e":0.002},{"b":"B0018","c":54,"e":0.001},{"b":"B0018","c":60,"e":0.001},{"b":"B0018","c":66,"e":0.0},{"b":"B0018","c":72,"e":0.001},{"b":"B0018","c":80,"e":0.001},{"b":"B0018","c":88,"e":0.001},{"b":"B0018","c":96,"e":0.0},{"b":"B0018","c":104,"e":0.001},{"b":"B0018","c":112,"e":0.001},{"b":"B0018","c":120,"e":0.0},{"b":"B0018","c":128,"e":0.001},{"b":"B0018","c":136,"e":0.001},{"b":"B0018","c":144,"e":0.0},{"b":"B0018","c":152,"e":0.001},{"b":"B0018","c":160,"e":0.001},{"b":"B0018","c":168,"e":0.001},{"b":"B0018","c":174,"e":0.001},{"b":"B0018","c":178,"e":0.002},{"b":"B0018","c":180,"e":0.003},{"b":"B0018","c":183,"e":0.001},{"b":"B0018","c":190,"e":0.001},{"b":"B0018","c":198,"e":0.001},{"b":"B0018","c":206,"e":0.001},{"b":"B0018","c":214,"e":0.0},{"b":"B0018","c":222,"e":0.001},{"b":"B0018","c":230,"e":0.001},{"b":"B0018","c":238,"e":0.002},{"b":"B0018","c":244,"e":0.001},{"b":"B0018","c":250,"e":0.001},{"b":"B0018","c":254,"e":0.002},{"b":"B0018","c":256,"e":0.008},{"b":"B0018","c":258,"e":0.020},{"b":"B0018","c":260,"e":0.010},{"b":"B0018","c":262,"e":0.003},{"b":"B0018","c":265,"e":0.002},{"b":"B0018","c":268,"e":0.003},{"b":"B0018","c":270,"e":0.005},{"b":"B0018","c":273,"e":0.012},{"b":"B0018","c":275,"e":0.005},{"b":"B0018","c":277,"e":0.003},{"b":"B0018","c":279,"e":0.010},{"b":"B0018","c":281,"e":0.013},{"b":"B0018","c":283,"e":0.008},{"b":"B0018","c":285,"e":0.021},{"b":"B0018","c":287,"e":0.016},{"b":"B0018","c":289,"e":0.018},{"b":"B0018","c":291,"e":0.014},{"b":"B0018","c":293,"e":0.015},{"b":"B0018","c":296,"e":0.014},{"b":"B0018","c":299,"e":0.003},{"b":"B0018","c":302,"e":0.012},{"b":"B0018","c":305,"e":0.004},{"b":"B0018","c":309,"e":0.010},{"b":"B0018","c":312,"e":0.034},{"b":"B0018","c":315,"e":0.017},{"b":"B0018","c":318,"e":0.015},{"b":"B0018","c":320,"e":0.003}
    ]
  },
  "vconcat": [
    {
      "title": "MLP Error Analysis - Absolute Error vs Cycle",
      "width": 506,
      "height": 200,
      "data": {"name": "mlp"},
      "mark": {"type": "line", "strokeWidth": 1.1, "opacity": 0.9},
      "encoding": {
        "x": {"field": "c", "type": "quantitative", "title": "Cycle",
          "scale": {"domain": [-28, 647], "nice": false, "zero": false},
          "axis": {"values": [0, 100, 200, 300, 400, 500, 600]}},
        "y": {"field": "e", "type": "quantitative", "title": "Absolute Error",
          "scale": {"domain": [-0.0079, 0.1649], "nice": false, "zero": false},
          "axis": {"values": [0, 0.02, 0.04, 0.06, 0.08, 0.1, 0.12, 0.14, 0.16], "format": ".2f"}},
        "color": {"field": "b", "type": "nominal",
          "scale": {"domain": ["B0005", "B0006", "B0007", "B0018"], "range": ["#1f8fbf", "#ff8c42", "#15a75a", "#ff3347"]},
          "legend": {"title": null}}
      }
    },
    {
      "title": "PINN Error Analysis - Absolute Error vs Cycle",
      "width": 506,
      "height": 186,
      "data": {"name": "pinn"},
      "mark": {"type": "line", "strokeWidth": 1.1, "opacity": 0.9},
      "encoding": {
        "x": {"field": "c", "type": "quantitative", "title": "Cycle",
          "scale": {"domain": [-28, 647], "nice": false, "zero": false},
          "axis": {"values": [0, 100, 200, 300, 400, 500, 600]}},
        "y": {"field": "e", "type": "quantitative", "title": "Absolute Error",
          "scale": {"domain": [-0.0079, 0.1659], "nice": false, "zero": false},
          "axis": {"values": [0, 0.02, 0.04, 0.06, 0.08, 0.1, 0.12, 0.14, 0.16], "format": ".2f"}},
        "color": {"field": "b", "type": "nominal",
          "scale": {"domain": ["B0005", "B0006", "B0007", "B0018"], "range": ["#1f8fbf", "#ff8c42", "#15a75a", "#ff3347"]},
          "legend": {"title": null}}
      }
    }
  ],
  "spacing": 24,
  "resolve": {"scale": {"color": "independent"}, "legend": {"color": "independent"}},
  "config": {
    "font": "DejaVu Sans",
    "view": {"stroke": "#444444", "strokeWidth": 1},
    "title": {"font": "DejaVu Sans", "fontSize": 7, "fontWeight": "bold", "color": "#000000", "offset": 5},
    "axis": {
      "labelFont": "DejaVu Sans", "labelFontSize": 6, "labelColor": "#222222",
      "titleFont": "DejaVu Sans", "titleFontSize": 6, "titleFontWeight": "normal", "titleColor": "#222222",
      "tickSize": 2.5, "tickColor": "#444444", "labelPadding": 1.5, "domain": false,
      "gridColor": "#b0b0b0", "gridOpacity": 0.35, "gridWidth": 0.6
    },
    "axisX": {"titlePadding": 2},
    "axisY": {"titlePadding": 4},
    "legend": {
      "orient": "top-left", "offset": 1, "columns": 2, "symbolType": "stroke",
      "symbolSize": 110, "symbolStrokeWidth": 1.5, "labelFont": "DejaVu Sans",
      "labelFontSize": 4.6, "labelColor": "#333333", "columnPadding": 8, "rowPadding": 2,
      "padding": 3, "strokeColor": "#d0d0d0", "fillColor": "#ffffff", "cornerRadius": 2
    }
  }
}
